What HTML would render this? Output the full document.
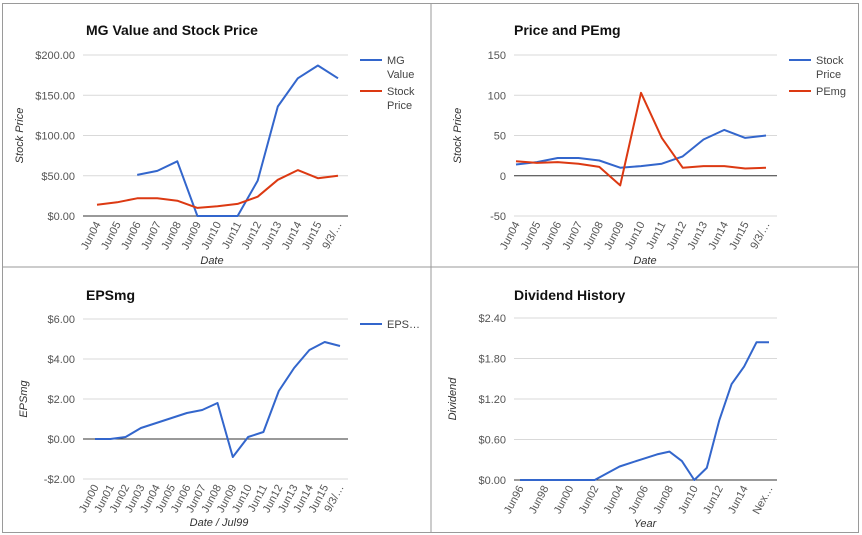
<!DOCTYPE html>
<html><head><meta charset="utf-8">
<style>
html,body{margin:0;padding:0;background:#fff;}
svg{display:block;font-family:"Liberation Sans",Arial,sans-serif;}
</style></head>
<body>
<svg id="s" width="862" height="535" viewBox="0 0 862 535">
  <rect x="0" y="0" width="862" height="535" fill="#fff"/>
  <rect x="2.5" y="3.5" width="856" height="529" fill="none" stroke="#9a9a9a"/>
  <line x1="431" y1="3" x2="431" y2="533" stroke="#9a9a9a"/>
  <line x1="2" y1="267" x2="859" y2="267" stroke="#9a9a9a"/>
</svg>
<script>
// ---- Chart 1 data ----
const c1Categories = ["Jun04","Jun05","Jun06","Jun07","Jun08","Jun09","Jun10","Jun11","Jun12","Jun13","Jun14","Jun15","9/3/…"];
const c1MgValue = [null,null,51,56,68,0,0,0,44,136,171,187,171];
const c1StockPrice = [14,17,22,22,19,10,12,15,24,45,57,47,50];
const c1Ticks = [0,50,100,150,200];
const c1TickLabels = ["$0.00","$50.00","$100.00","$150.00","$200.00"];
// ---- Chart 2 data ----
const c2Categories = ["Jun04","Jun05","Jun06","Jun07","Jun08","Jun09","Jun10","Jun11","Jun12","Jun13","Jun14","Jun15","9/3/…"];
const c2StockPrice = [14,17,22,22,19,10,12,15,24,45,57,47,50];
const c2PEmg = [18,16,17,15,11,-12,103,47,10,12,12,9,10];
const c2Ticks = [-50,0,50,100,150];
const c2TickLabels = ["-50","0","50","100","150"];
// ---- Chart 3 data ----
const c3Categories = ["Jun00","Jun01","Jun02","Jun03","Jun04","Jun05","Jun06","Jun07","Jun08","Jun09","Jun10","Jun11","Jun12","Jun13","Jun14","Jun15","9/3/…"];
const c3EPSmg = [0,0,0.1,0.55,0.8,1.05,1.3,1.45,1.8,-0.9,0.1,0.35,2.4,3.55,4.45,4.85,4.65];
const c3Ticks = [-2,0,2,4,6];
const c3TickLabels = ["-$2.00","$0.00","$2.00","$4.00","$6.00"];
// ---- Chart 4 data ----
const c4Categories = ["Jun96","Jun97","Jun98","Jun99","Jun00","Jun01","Jun02","Jun03","Jun04","Jun05","Jun06","Jun07","Jun08","Jun09","Jun10","Jun11","Jun12","Jun13","Jun14","Jun15","Nex…"];
const c4Dividend = [0,0,0,0,0,0,0,0.1,0.2,0.26,0.32,0.38,0.42,0.28,0,0.18,0.88,1.42,1.68,2.04,2.04];
const c4Ticks = [0,0.6,1.2,1.8,2.4];
const c4TickLabels = ["$0.00","$0.60","$1.20","$1.80","$2.40"];

const NS="http://www.w3.org/2000/svg";
const svg=document.getElementById('s');
function mk(tag,attrs,parent,text){const e=document.createElementNS(NS,tag);for(const k in attrs)e.setAttribute(k,attrs[k]);if(text!==undefined)e.textContent=text;(parent||svg).appendChild(e);return e;}

function chart(cfg){
  const g=mk('g',{});
  
  
  const yScale=v=>cfg.yBottom-(v-cfg.yMin)/(cfg.yMax-cfg.yMin)*(cfg.yBottom-cfg.yTop);
  const n=cfg.categories.length;
  const xScale=i=>cfg.x0+i*(cfg.x1-cfg.x0)/(n-1);
  const t=mk('text',{x:cfg.titleX,y:cfg.titleY,'font-size':14,'font-weight':'bold',fill:'#111'},g,cfg.title);
  
  
  cfg.ticks.forEach((v,i)=>{
    const y=yScale(v);
    const ln=mk('line',{x1:cfg.plotL,x2:cfg.plotR,y1:y,y2:y,stroke:v===0?'#333':'#d9d9d9','stroke-width':1},g);
    
    
    const tl=mk('text',{x:cfg.plotL-8,y:y+4,'font-size':11,fill:'#555','text-anchor':'end'},g,cfg.tickLabels[i]);
    
    
  });
  cfg.categories.forEach((c,i)=>{
    if(i%cfg.labelEvery!==0)return;
    const x=xScale(i)+4,y=cfg.yBottom+8;
    const tl=mk('text',{x:x,y:y,'font-size':11,fill:'#555','text-anchor':'end',transform:`rotate(-62 ${x} ${y})`},g,c);
    
    
  });
  const yt=mk('text',{x:cfg.yTitleX,y:(cfg.yTop+cfg.yBottom)/2,'font-size':11,'font-style':'italic',fill:'#333','text-anchor':'middle',transform:`rotate(-90 ${cfg.yTitleX} ${(cfg.yTop+cfg.yBottom)/2})`},g,cfg.yTitle);
  
  
  const xt=mk('text',{x:cfg.xTitleX,y:cfg.xTitleY,'font-size':11,'font-style':'italic',fill:'#333','text-anchor':'middle'},g,cfg.xTitle);
  
  
  cfg.series.forEach((s,si)=>{
    let d='',pen=false;
    s.values.forEach((v,i)=>{
      if(v===null){pen=false;return;}
      d+=(pen?'L':'M')+xScale(i).toFixed(1)+' '+yScale(v).toFixed(1)+' ';pen=true;
    });
    const p=mk('path',{d:d,fill:'none',stroke:s.color,'stroke-width':2,'stroke-linejoin':'round'},g);
    
    
    const ly=cfg.legendY+si*cfg.legendGap;
    const ll=mk('line',{x1:cfg.legendX,x2:cfg.legendX+22,y1:ly,y2:ly,stroke:s.color,'stroke-width':2},g);
    
    
    s.label.forEach((line,li)=>{
      const lt=mk('text',{x:cfg.legendX+27,y:ly+4+li*14,'font-size':11,fill:'#444'},g,line);
      
      
    });
  });
}

chart({name:'mg-value-chart',title:'MG Value and Stock Price',titleX:86,titleY:35,
  categories:c1Categories,ticks:c1Ticks,tickLabels:c1TickLabels,yMin:0,yMax:200,yTop:55,yBottom:216,
  plotL:83,plotR:348,x0:97,x1:338,labelEvery:1,yTitle:'Stock Price',yTitleX:23,xTitle:'Date',xTitleX:212,xTitleY:264,
  legendX:360,legendY:60,legendGap:31,
  series:[{key:'mg-value',values:c1MgValue,color:'#3366cc',label:['MG','Value']},
          {key:'stock-price',values:c1StockPrice,color:'#dc3912',label:['Stock','Price']}]});

chart({name:'price-pemg-chart',title:'Price and PEmg',titleX:514,titleY:35,
  categories:c2Categories,ticks:c2Ticks,tickLabels:c2TickLabels,yMin:-50,yMax:150,yTop:55,yBottom:216,
  plotL:514,plotR:777,x0:516,x1:766,labelEvery:1,yTitle:'Stock Price',yTitleX:461,xTitle:'Date',xTitleX:645,xTitleY:264,
  legendX:789,legendY:60,legendGap:31,
  series:[{key:'stock-price',values:c2StockPrice,color:'#3366cc',label:['Stock','Price']},
          {key:'pemg',values:c2PEmg,color:'#dc3912',label:['PEmg']}]});

chart({name:'epsmg-chart',title:'EPSmg',titleX:86,titleY:300,
  categories:c3Categories,ticks:c3Ticks,tickLabels:c3TickLabels,yMin:-2,yMax:6,yTop:319,yBottom:479,
  plotL:83,plotR:348,x0:95,x1:340,labelEvery:1,yTitle:'EPSmg',yTitleX:27,xTitle:'Date / Jul99',xTitleX:219,xTitleY:526,
  legendX:360,legendY:324,legendGap:31,
  series:[{key:'epsmg',values:c3EPSmg,color:'#3366cc',label:['EPS…']}]});

chart({name:'dividend-history-chart',title:'Dividend History',titleX:514,titleY:300,
  categories:c4Categories,ticks:c4Ticks,tickLabels:c4TickLabels,yMin:0,yMax:2.4,yTop:318,yBottom:480,
  plotL:514,plotR:777,x0:520,x1:769,labelEvery:2,yTitle:'Dividend',yTitleX:456,xTitle:'Year',xTitleX:645,xTitleY:527,
  legendX:900,legendY:-50,legendGap:31,
  series:[{key:'dividend',values:c4Dividend,color:'#3366cc',label:[]}]});
</script>
</body></html>
